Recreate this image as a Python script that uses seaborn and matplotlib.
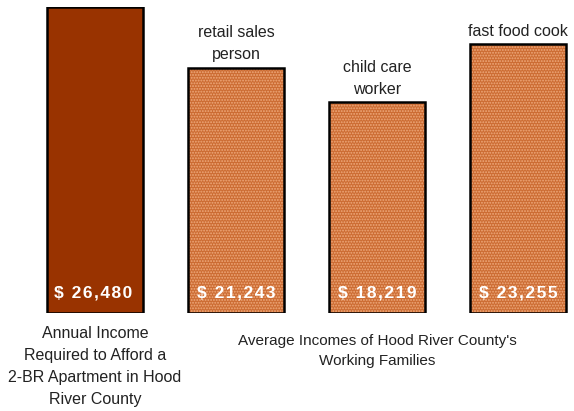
import matplotlib
matplotlib.use("Agg")
import matplotlib.pyplot as plt
import seaborn as sns
import pandas as pd

categories = ["required", "retail sales person", "child care worker", "fast food cook"]
values = [26480, 21243, 18219, 23255]
value_labels = ["$ 26,480", "$ 21,243", "$ 18,219", "$ 23,255"]
top_labels = ["", "retail sales\nperson", "child care\nworker", "fast food cook"]
group_left = "Annual Income\nRequired to Afford a\n2-BR Apartment in Hood\nRiver County"
group_right = "Average Incomes of Hood River County's\nWorking Families"

sns.set_theme(style="white")
plt.rcParams["font.family"] = ["Liberation Sans", "DejaVu Sans"]
plt.rcParams["hatch.linewidth"] = 0.9

df = pd.DataFrame({"cat": categories, "val": values})

fig = plt.figure(figsize=(5.74, 4.11), dpi=100)
ax = fig.add_axes([0, (411 - 313) / 411, 1, (313 - 7) / 411])

fill_colors = ["#993300", "#CC6C33", "#CC6C33", "#CC6C33"]
sns.barplot(data=df, x="cat", y="val", hue="cat", palette=fill_colors,
            legend=False, width=0.68, ax=ax, linewidth=0, saturation=1)
for i, p in enumerate(ax.patches):
    if i > 0:
        p.set_hatch("......")
        p.set_edgecolor("#EFAA7C")
        p.set_linewidth(0)
# outline layer
sns.barplot(data=df, x="cat", y="val", fill=False, width=0.68, ax=ax,
            edgecolor="black", linewidth=1.8, color="black")

ax.set_xlim(-95 / 141, (574 - 95) / 141)
ax.set_ylim(0, 26480)
ax.axis("off")

def spaced(s):
    return "\u200a".join(s)

for i, (v, lab, tl) in enumerate(zip(values, value_labels, top_labels)):
    ax.annotate(spaced(lab), xy=(i, 0), xytext=(-1.5 if i == 0 else 0, 14.5),
                textcoords="offset points",
                ha="center", va="center", color="white", fontsize=12.5, fontweight="bold")
    if tl:
        ax.annotate(tl, xy=(i, v), xytext=(0, 4), textcoords="offset points",
                    ha="center", va="bottom", fontsize=11.5, color="#222222",
                    linespacing=1.55)

ax.annotate(group_left, xy=(0, 0), xytext=(0, -9), textcoords="offset points",
            ha="center", va="top", fontsize=11.5, color="#222222", linespacing=1.6,
            annotation_clip=False)
ax.annotate(group_right, xy=(2, 0), xytext=(0, -15), textcoords="offset points",
            ha="center", va="top", fontsize=11, color="#222222", linespacing=1.6,
            annotation_clip=False)

fig.savefig("out.png", dpi=100)
